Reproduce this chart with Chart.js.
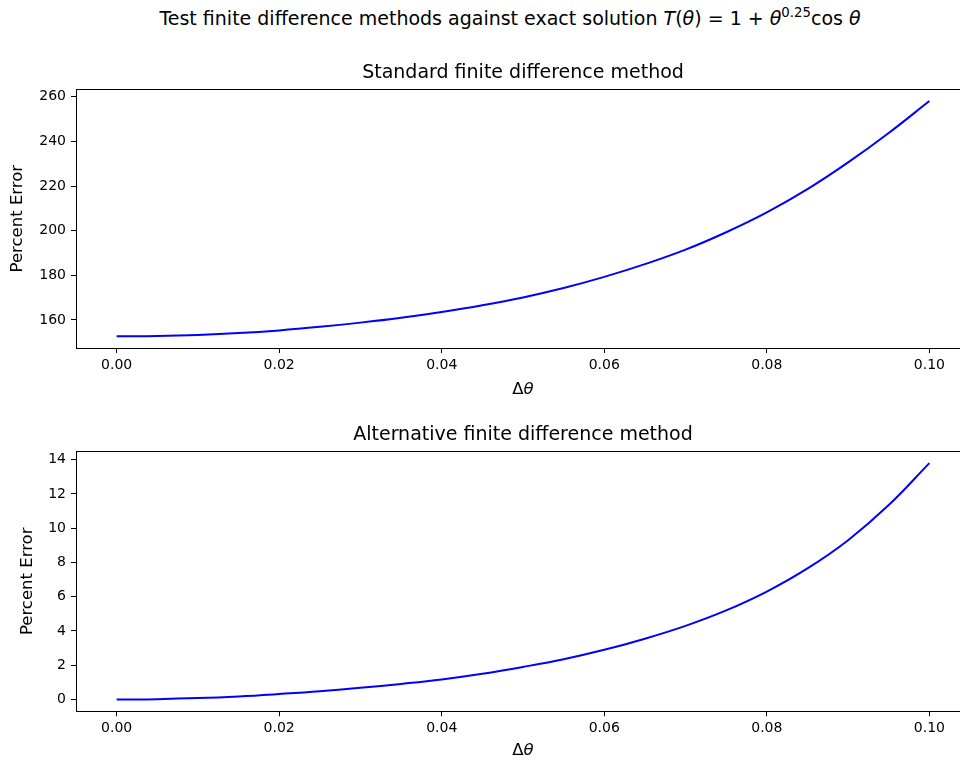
<!DOCTYPE html>
<html>
<head>
<meta charset="utf-8">
<title>Finite difference error</title>
<script src="https://cdn.jsdelivr.net/npm/chart.js@4.4.0/dist/chart.umd.min.js"></script>
<style>
    html, body { margin: 0; padding: 0; background: #fff; width: 960px; height: 761px; overflow: hidden; }
    .panel { position: absolute; left: 0; }
    #suptitle {
        position: absolute; top: 7px; left: 0; width: 1020px;
        text-align: center; white-space: nowrap;
        font-family: 'DejaVu Sans', sans-serif; font-size: 19px; color: #000;
    }
    #suptitle sup { font-size: 13.3px; vertical-align: 0; position: relative; top: -8px; line-height: 0; }
</style>
</head>
<body>
<div id="suptitle">Test finite difference methods against exact solution <i>T</i>(<i>θ</i>) = 1 + <i>θ</i><sup>0.25</sup>cos <i>θ</i></div>
<div class="panel" id="topPanel"><canvas id="standardChart" width="970" height="356"></canvas></div>
<div class="panel" id="bottomPanel"><canvas id="alternativeChart" width="970" height="356"></canvas></div>

<script>
// step sizes tested
const dTheta = [0.000, 0.005, 0.010, 0.015, 0.020, 0.025, 0.030, 0.035, 0.040, 0.045, 0.050,
                0.055, 0.060, 0.065, 0.070, 0.075, 0.080, 0.085, 0.090, 0.095, 0.100];

// percent error, standard scheme
const standardError = [152.7, 152.85, 153.3, 154.1, 155.3, 156.9, 158.8, 161.0, 163.6, 166.6, 170.1,
                       174.3, 179.3, 185.0, 191.5, 199.3, 208.2, 218.6, 230.6, 243.8, 258.1];

// percent error, alternative scheme
const alternativeError = [0.0, 0.02, 0.08, 0.18, 0.32, 0.48, 0.68, 0.91, 1.17, 1.5, 1.9,
                          2.35, 2.9, 3.55, 4.3, 5.2, 6.3, 7.65, 9.3, 11.35, 13.8];

const xTicks = [0, 0.02, 0.04, 0.06, 0.08, 0.10];
const xTickLabels = ['0.00', '0.02', '0.04', '0.06', '0.08', '0.10'];
const yTicksStandard = [160, 180, 200, 220, 240, 260];
const yTickLabelsStandard = ['160', '180', '200', '220', '240', '260'];
const yTicksAlternative = [0, 2, 4, 6, 8, 10, 12, 14];
const yTickLabelsAlternative = ['0', '2', '4', '6', '8', '10', '12', '14'];

const FONT = "'DejaVu Sans', sans-serif";
const TEXT = '#000';
const LABEL_SIZE = 16.5;

// matplotlib-style 5% margins around the data
function padRange(values) {
    const lo = Math.min(...values);
    const hi = Math.max(...values);
    const m = (hi - lo) * 0.05;
    return { min: lo - m, max: hi + m };
}

// box around the axes
const frame = {
    id: 'frame',
    afterDraw(chart) {
        const { ctx, chartArea: a } = chart;
        ctx.save();
        ctx.strokeStyle = '#000';
        ctx.lineWidth = 1;
        ctx.strokeRect(Math.round(a.left) + 0.5, Math.round(a.top) + 0.5,
                       Math.round(a.right - a.left), Math.round(a.bottom - a.top));
        ctx.restore();
    }
};

// x label: upright delta, italic theta
const deltaLabel = {
    id: 'deltaLabel',
    afterDraw(chart, args, opts) {
        const { ctx, scales: { x } } = chart;
        const upright = `${LABEL_SIZE}px ${FONT}`;
        const italic = `italic ${LABEL_SIZE}px ${FONT}`;
        ctx.save();
        ctx.fillStyle = TEXT;
        ctx.textBaseline = 'middle';
        ctx.textAlign = 'left';
        ctx.font = upright;
        const wD = ctx.measureText('Δ').width;
        ctx.font = italic;
        const wT = ctx.measureText('θ').width;
        const cx = (x.left + x.right) / 2;
        const y = chart.chartArea.bottom + opts.offset;
        ctx.font = upright;
        ctx.fillText('Δ', cx - (wD + wT) / 2, y);
        ctx.font = italic;
        ctx.fillText('θ', cx - (wD + wT) / 2 + wD, y);
        ctx.restore();
    }
};

function makePanel(canvasId, cfg) {
    const xr = padRange(dTheta);
    const yr = padRange(cfg.values);
    const tickFont = { family: FONT, size: 14 };

    return new Chart(document.getElementById(canvasId), {
        type: 'line',
        data: {
            datasets: [{
                data: dTheta.map((x, i) => ({ x: x, y: cfg.values[i] })),
                borderColor: '#0000ff',
                borderWidth: 2,
                pointRadius: 0,
                fill: false,
                tension: 0.4
            }]
        },
        options: {
            responsive: false,
            animation: false,
            layout: { padding: 0 },
            plugins: {
                legend: { display: false },
                tooltip: { enabled: false },
                title: {
                    display: true,
                    // only as wide as the axes, so the text centres over them
                    fullSize: false,
                    text: cfg.title,
                    color: TEXT,
                    font: { family: FONT, size: 19, weight: 'normal' },
                    padding: { top: 11.6, bottom: 4.9 }
                },
                deltaLabel: { offset: cfg.xLabelOffset }
            },
            scales: {
                x: {
                    type: 'linear',
                    min: xr.min,
                    max: xr.max,
                    afterFit: s => { s.height = cfg.xAxisHeight; },
                    afterBuildTicks: s => { s.ticks = xTicks.map(v => ({ value: v })); },
                    grid: { display: true, drawOnChartArea: false, drawTicks: true, tickLength: 5, color: '#000' },
                    border: { display: false },
                    ticks: {
                        color: TEXT,
                        font: tickFont,
                        padding: 4,
                        maxRotation: 0,
                        autoSkip: false,
                        callback: (v, i) => xTickLabels[i]
                    }
                },
                y: {
                    type: 'linear',
                    min: yr.min,
                    max: yr.max,
                    afterFit: s => { s.width = 76; },
                    afterBuildTicks: s => { s.ticks = cfg.yTicks.map(v => ({ value: v })); },
                    grid: { display: true, drawOnChartArea: false, drawTicks: true, tickLength: 5, color: '#000' },
                    border: { display: false },
                    ticks: {
                        color: TEXT,
                        font: tickFont,
                        padding: 5,
                        autoSkip: false,
                        callback: (v, i) => cfg.yTickLabels[i]
                    },
                    title: {
                        display: true,
                        text: 'Percent Error',
                        color: TEXT,
                        font: { family: FONT, size: LABEL_SIZE },
                        padding: { top: cfg.yTitlePad, bottom: 0 }
                    }
                }
            }
        },
        plugins: [frame, deltaLabel]
    });
}

document.getElementById('topPanel').style.top = '50px';
document.getElementById('bottomPanel').style.top = '412.4px';

makePanel('standardChart', {
    title: 'Standard finite difference method',
    values: standardError,
    yTicks: yTicksStandard,
    yTickLabels: yTickLabelsStandard,
    xAxisHeight: 58,
    xLabelOffset: 41.5,
    yTitlePad: 8.1
});

makePanel('alternativeChart', {
    title: 'Alternative finite difference method',
    values: alternativeError,
    yTicks: yTicksAlternative,
    yTickLabels: yTickLabelsAlternative,
    xAxisHeight: 56.7,
    xLabelOffset: 39.5,
    yTitlePad: 17.6
});
</script>
</body>
</html>
